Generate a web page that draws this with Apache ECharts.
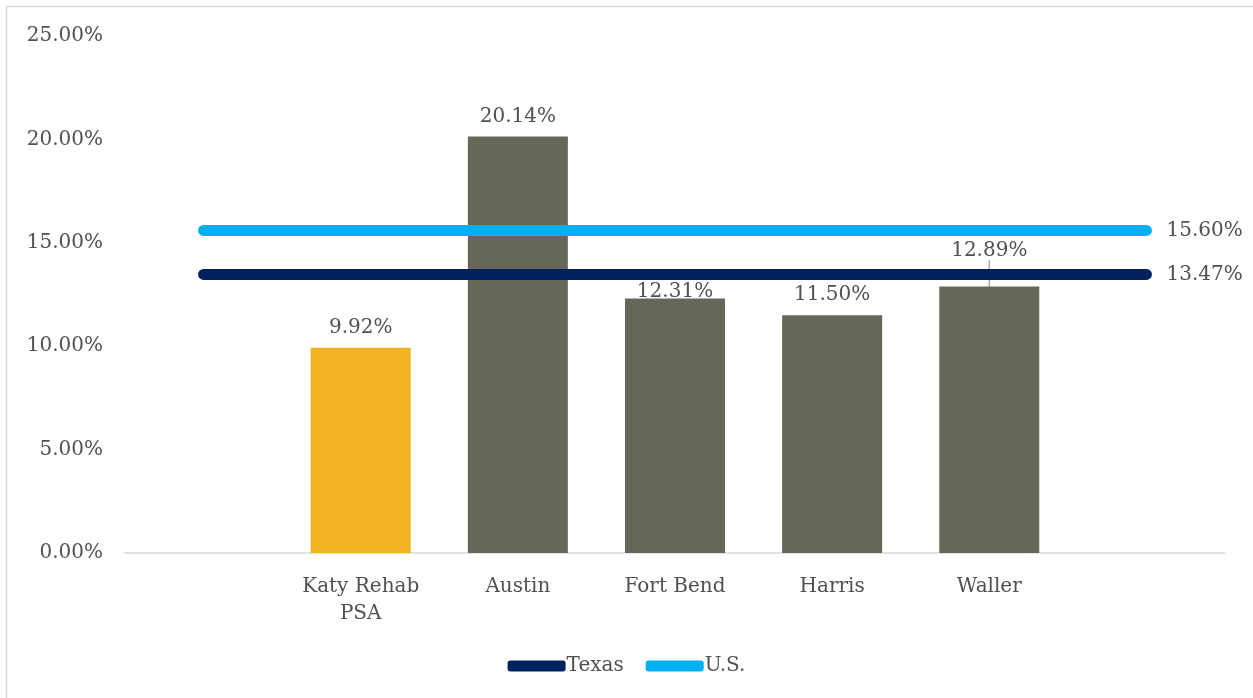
<!DOCTYPE html>
<html>
<head>
<meta charset="utf-8">
<script src="https://cdn.jsdelivr.net/npm/echarts@6/dist/echarts.min.js"></script>
<style>
  html, body { margin: 0; padding: 0; background: #fff; }
  #chart { width: 1253px; height: 698px; }
</style>
</head>
<body>
<div id="chart"></div>
<script>
// blank slots at both ends so the reference lines run past the bars
const categories = ['', 'Katy Rehab\nPSA', 'Austin', 'Fort Bend', 'Harris', 'Waller', ''];
const barValues = [null, 9.92, 20.14, 12.31, 11.50, 12.89, null];
const texasValues = [13.47, 13.47, 13.47, 13.47, 13.47, 13.47, 13.47];
const usValues = [15.60, 15.60, 15.60, 15.60, 15.60, 15.60, 15.60];
const yTicks = [0, 5, 10, 15, 20, 25];

const font = 'DejaVu Serif';
const textColor = '#505050';

const barData = barValues.map((v, i) => {
  if (v === null) return null;
  const item = { value: v, itemStyle: { color: i === 1 ? '#F0B323' : '#666759' } };
  if (i === 3) item.label = { distance: -3 };
  // Waller label sits higher with a leader line
  if (i === 5) item.labelLine = { show: true, lineStyle: { color: '#a6a6a6', width: 1.5 } };
  return item;
});

const endLabel = {
  show: true,
  distance: 20,
  fontFamily: font,
  fontSize: 20,
  color: textColor,
  formatter: p => p.value.toFixed(2) + '%'
};

const chart = echarts.init(document.getElementById('chart'));
chart.setOption({
  animation: false,
  backgroundColor: '#fff',
  graphic: [{
    type: 'rect',
    shape: { x: 6.5, y: 6.5, width: 1260, height: 700 },
    style: { fill: null, stroke: '#d9d9d9', lineWidth: 1.5 },
    silent: true
  }],
  grid: { left: 125, right: 28, top: 36, bottom: 145 },
  legend: {
    data: ['Texas', 'U.S.'],
    bottom: 17,
    left: 'center',
    itemWidth: 58,
    itemHeight: 11,
    itemGap: 22,
    icon: 'roundRect',
    textStyle: { fontFamily: font, fontSize: 20, color: textColor, padding: [0, 0, 0, -4] }
  },
  xAxis: {
    type: 'category',
    data: categories,
    axisLine: { lineStyle: { color: '#d9d9d9', width: 1.5 } },
    axisTick: { show: false },
    axisLabel: {
      interval: 0,
      margin: 20,
      fontFamily: font,
      fontSize: 20,
      lineHeight: 27,
      color: textColor
    }
  },
  yAxis: {
    type: 'value',
    min: yTicks[0],
    max: yTicks[yTicks.length - 1],
    interval: 5,
    splitLine: { show: false },
    axisLine: { show: false },
    axisTick: { show: false },
    axisLabel: {
      margin: 22,
      fontFamily: font,
      fontSize: 20,
      color: textColor,
      formatter: v => v.toFixed(2) + '%'
    }
  },
  series: [
    {
      name: 'Bars',
      type: 'bar',
      data: barData,
      barWidth: 100,
      label: {
        show: true,
        position: 'top',
        distance: 10,
        fontFamily: font,
        fontSize: 20,
        color: textColor,
        formatter: p => p.value.toFixed(2) + '%'
      },
      labelLayout: p => (p.dataIndex === 5 ? { dy: -16 } : {}),
      z: 1
    },
    {
      name: 'Texas',
      type: 'line',
      data: texasValues,
      symbol: 'none',
      color: '#002060',
      lineStyle: { width: 11, cap: 'round', color: '#002060' },
      endLabel: endLabel,
      z: 3
    },
    {
      name: 'U.S.',
      type: 'line',
      data: usValues,
      symbol: 'none',
      color: '#00B0F0',
      lineStyle: { width: 11, cap: 'round', color: '#00B0F0' },
      endLabel: endLabel,
      z: 3
    }
  ]
});
</script>
</body>
</html>
